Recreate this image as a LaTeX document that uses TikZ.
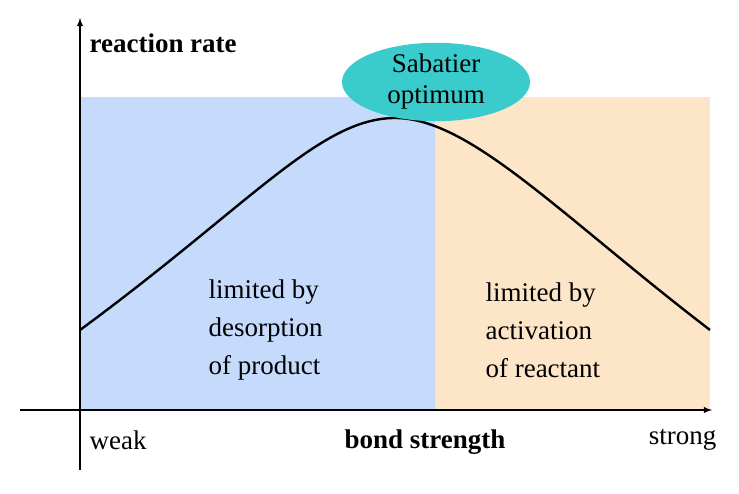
\documentclass[tikz,border=0pt]{standalone}
\usepackage{fontspec}
\setmainfont{Liberation Serif}
\usetikzlibrary{shapes.geometric}
\definecolor{weakblue}{RGB}{198,218,252}
\definecolor{strongorange}{RGB}{253,229,200}
\definecolor{optcyan}{RGB}{58,204,204}
\tikzset{
  region/.style={font=\fontsize{27}{38}\selectfont,align=left},
  axislabel/.style={font=\fontsize{27}{31}\selectfont},
}
\begin{document}
\begin{tikzpicture}[x=1pt,y=-1pt]
\useasboundingbox (0,0) rectangle (739,493);
\fill[weakblue] (80,97) rectangle (435,410);
\fill[strongorange] (435,97) rectangle (710,410);
\coordinate (lo) at (80,330);
\coordinate (top) at (395,118);
\coordinate (hi) at (710,330);
\draw[line width=2.4pt,line join=round] (lo) .. controls (250,205) and (320,118) .. (top)
  .. controls (470,118) and (560,215) .. (hi);
\node[ellipse,fill=optcyan,minimum width=188,minimum height=76,inner sep=0,
  align=center,axislabel] (opt) at (436,82) {Sabatier\\optimum};
\coordinate (xs) at (20,410);
\coordinate (xe) at (712,410);
\coordinate (ys) at (80,470);
\coordinate (ye) at (80,18);
\draw[line width=1.8pt,-latex] (xs) -- (xe);
\draw[line width=1.8pt,-latex] (ys) -- (ye);
\node[axislabel,anchor=west] (rate) at (86,43) {\textbf{reaction rate}};
\node[axislabel,anchor=west] (weak) at (86,440) {weak};
\node[axislabel] (bond) at (425,442) {\textbf{bond strength}};
\node[axislabel,anchor=east] (strong) at (720,440) {strong};
\node[region,anchor=west] (desorb) at (205,330) {limited by\\desorption\\of product};
\node[region,anchor=west] (activ) at (482,330) {limited by\\activation\\of reactant};
\end{tikzpicture}
\end{document}
